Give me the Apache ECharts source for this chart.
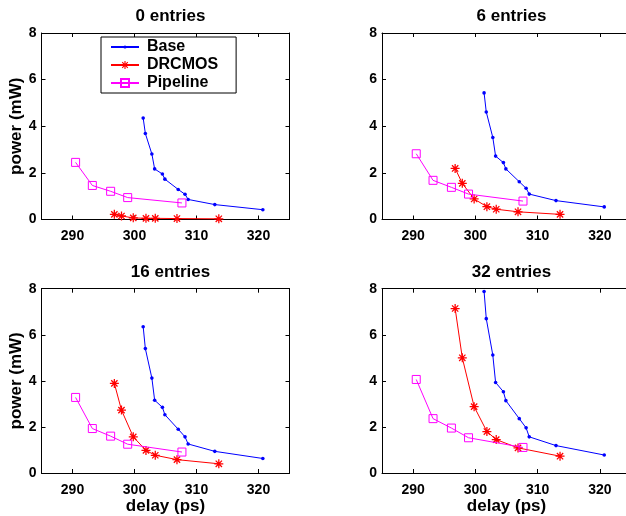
<!DOCTYPE html>
<html>
<head>
<meta charset="utf-8">
<script src="https://cdn.jsdelivr.net/npm/echarts@6/dist/echarts.min.js"></script>
<style>
html,body{margin:0;padding:0;background:#fff;overflow:hidden;width:626px;height:516px;}
#c{width:640px;height:516px;}
</style>
</head>
<body>
<div id="c"></div>
<script>
// ---- data ----
const panelTitles = ['0 entries', '6 entries', '16 entries', '32 entries'];
const seriesNames = ['Base', 'DRCMOS', 'Pipeline'];
const xTicks = [290, 300, 310, 320];
const yTicks = [0, 2, 4, 6, 8];

const baseDelay = [301.4, 301.75, 302.8, 303.25, 304.5, 304.9, 307.05, 308.15, 308.65, 312.95, 320.7];
const drcDelay  = [296.75, 297.9, 299.8, 301.85, 303.35, 306.85, 313.6];
const pipeDelay = [290.5, 293.2, 296.15, 298.9, 307.65];

const base0 = [4.35, 3.69, 2.81, 2.17, 1.95, 1.73, 1.29, 1.08, 0.86, 0.64, 0.42];
const drc0  = [0.22, 0.15, 0.07, 0.05, 0.05, 0.04, 0.03];
const pipe0 = [2.45, 1.46, 1.21, 0.94, 0.71];

const base6 = [5.43, 4.61, 3.52, 2.72, 2.44, 2.17, 1.62, 1.34, 1.09, 0.81, 0.54];
const drc6  = [2.19, 1.55, 0.88, 0.55, 0.44, 0.33, 0.22];
const pipe6 = [2.82, 1.68, 1.38, 1.09, 0.79];

const base16 = [6.35, 5.40, 4.12, 3.16, 2.85, 2.53, 1.90, 1.57, 1.26, 0.94, 0.63];
const drc16  = [3.89, 2.73, 1.57, 0.98, 0.77, 0.58, 0.40];
const pipe16 = [3.28, 1.93, 1.60, 1.25, 0.91];

const base32 = [7.88, 6.70, 5.12, 3.93, 3.53, 3.14, 2.36, 1.96, 1.57, 1.19, 0.78];
const drc32  = [7.14, 5.00, 2.88, 1.80, 1.45, 1.09, 0.73];
const pipe32 = [4.06, 2.36, 1.95, 1.53, 1.11];

const panelBase = [base0, base6, base16, base32];
const panelDrc  = [drc0, drc6, drc16, drc32];
const panelPipe = [pipe0, pipe6, pipe16, pipe32];

// ---- styling / layout ----
const FONT = 'Liberation Sans';
const grids = [
  {left: 41.5, top: 33,    width: 248, height: 186.5},
  {left: 382,  top: 33,    width: 249, height: 186.5},
  {left: 41.5, top: 288.7, width: 248, height: 186.5},
  {left: 382,  top: 288.7, width: 249, height: 186.5}
];
const gridCenters = [165.5, 506.5, 165.5, 506.5];
// small dot with invisible padding (bounding box 0..20, dot diameter 8)
const dot = 'path://M0 0M20 20M6 10A4 4 0 1 0 14 10A4 4 0 1 0 6 10Z';
const asterisk = 'path://M0 8.6L20 8.6L20 11.4L0 11.4Z M8.6 0L11.4 0L11.4 20L8.6 20Z M4.0 2.0L18.0 16.0L16.0 18.0L2.0 4.0Z M18.0 4.0L4.0 18.0L2.0 16.0L16.0 2.0Z';

function pairs(xs, ys) { return xs.map((x, i) => [x, ys[i]]); }

const xAxes = [], yAxes = [], series = [], titles = [];
for (let p = 0; p < 4; p++) {
  titles.push({
    text: panelTitles[p],
    left: gridCenters[p], top: p >= 2 ? 258.5 : 3, textAlign: 'center',
    textStyle: {fontFamily: FONT, fontWeight: 'bold', fontSize: 17, color: '#000'}
  });
  const lineStyle = {color: '#000', width: 1};
  xAxes.push({
    type: 'value', gridIndex: p, min: 285, max: 325, position: 'bottom',
    name: p >= 2 ? 'delay (ps)' : '', nameLocation: 'middle', nameGap: 25,
    nameTextStyle: {fontFamily: FONT, fontWeight: 'bold', fontSize: 17, color: '#000'},
    axisLine: {show: true, onZero: false, lineStyle},
    axisTick: {show: true, inside: true, length: 4, customValues: xTicks, lineStyle},
    axisLabel: {show: true, margin: 10, customValues: xTicks, fontFamily: FONT, fontWeight: 'bold', fontSize: 14, color: '#000'},
    splitLine: {show: false}
  });
  yAxes.push({
    type: 'value', gridIndex: p, min: 0, max: 8, interval: 2, position: 'left',
    name: (p % 2 === 0) ? 'power (mW)' : '', nameLocation: 'middle', nameGap: 16,
    nameTextStyle: {fontFamily: FONT, fontWeight: 'bold', fontSize: 17, color: '#000'},
    axisLine: {show: true, onZero: false, lineStyle},
    axisTick: {show: true, inside: true, length: 4, lineStyle},
    axisLabel: {show: true, margin: 5, fontFamily: FONT, fontWeight: 'bold', fontSize: 14, color: '#000'},
    splitLine: {show: false}
  });
  const b = panelBase[p], d = panelDrc[p], pp = panelPipe[p];
  series.push({
    name: 'Base', type: 'line', xAxisIndex: p, yAxisIndex: p,
    data: pairs(baseDelay, b), symbol: dot, symbolSize: 9,
    lineStyle: {color: '#0000ff', width: 1}, itemStyle: {color: '#0000ff'},
    animation: false, silent: true, z: 3
  });
  series.push({
    name: 'DRCMOS', type: 'line', xAxisIndex: p, yAxisIndex: p,
    data: pairs(drcDelay, d), symbol: asterisk, symbolSize: 9,
    lineStyle: {color: '#ff0000', width: 1}, itemStyle: {color: '#ff0000'},
    animation: false, silent: true, z: 4
  });
  series.push({
    name: 'Pipeline', type: 'line', xAxisIndex: p, yAxisIndex: p,
    data: pairs(pipeDelay, pp), symbol: 'rect', symbolSize: 8,
    showAllSymbol: true,
    lineStyle: {color: '#ff00ff', width: 1},
    itemStyle: {color: 'rgba(255,255,255,0)', borderColor: '#ff00ff', borderWidth: 1},
    animation: false, silent: true, z: 5
  });
}
// mirror axes (top / right box with inside ticks)
for (let p = 0; p < 4; p++) {
  const lineStyle = {color: '#000', width: 1};
  xAxes.push({
    type: 'value', gridIndex: p, min: 285, max: 325, position: 'top',
    axisLine: {show: true, onZero: false, lineStyle},
    axisTick: {show: true, inside: true, length: 4, customValues: xTicks, lineStyle},
    axisLabel: {show: false}, splitLine: {show: false}
  });
  yAxes.push({
    type: 'value', gridIndex: p, min: 0, max: 8, interval: 2, position: 'right',
    axisLine: {show: true, onZero: false, lineStyle},
    axisTick: {show: true, inside: true, length: 4, lineStyle},
    axisLabel: {show: false}, splitLine: {show: false}
  });
}

const chart = echarts.init(document.getElementById('c'), null, {renderer: 'canvas'});
chart.setOption({
  backgroundColor: '#fff',
  animation: false,
  title: titles,
  grid: grids,
  xAxis: xAxes,
  yAxis: yAxes,
  legend: {
    data: seriesNames,
    orient: 'vertical',
    left: 101, top: 37,
    padding: [1, 18, 1, 9],
    itemGap: 0,
    itemWidth: 28, itemHeight: 10,
    backgroundColor: '#fff',
    borderColor: '#000', borderWidth: 1,
    selectedMode: false,
    textStyle: {fontFamily: FONT, fontWeight: 'bold', fontSize: 16, color: '#000', lineHeight: 18, padding: [0, 0, 0, 3]}
  },
  series: series
});
</script>
</body>
</html>
